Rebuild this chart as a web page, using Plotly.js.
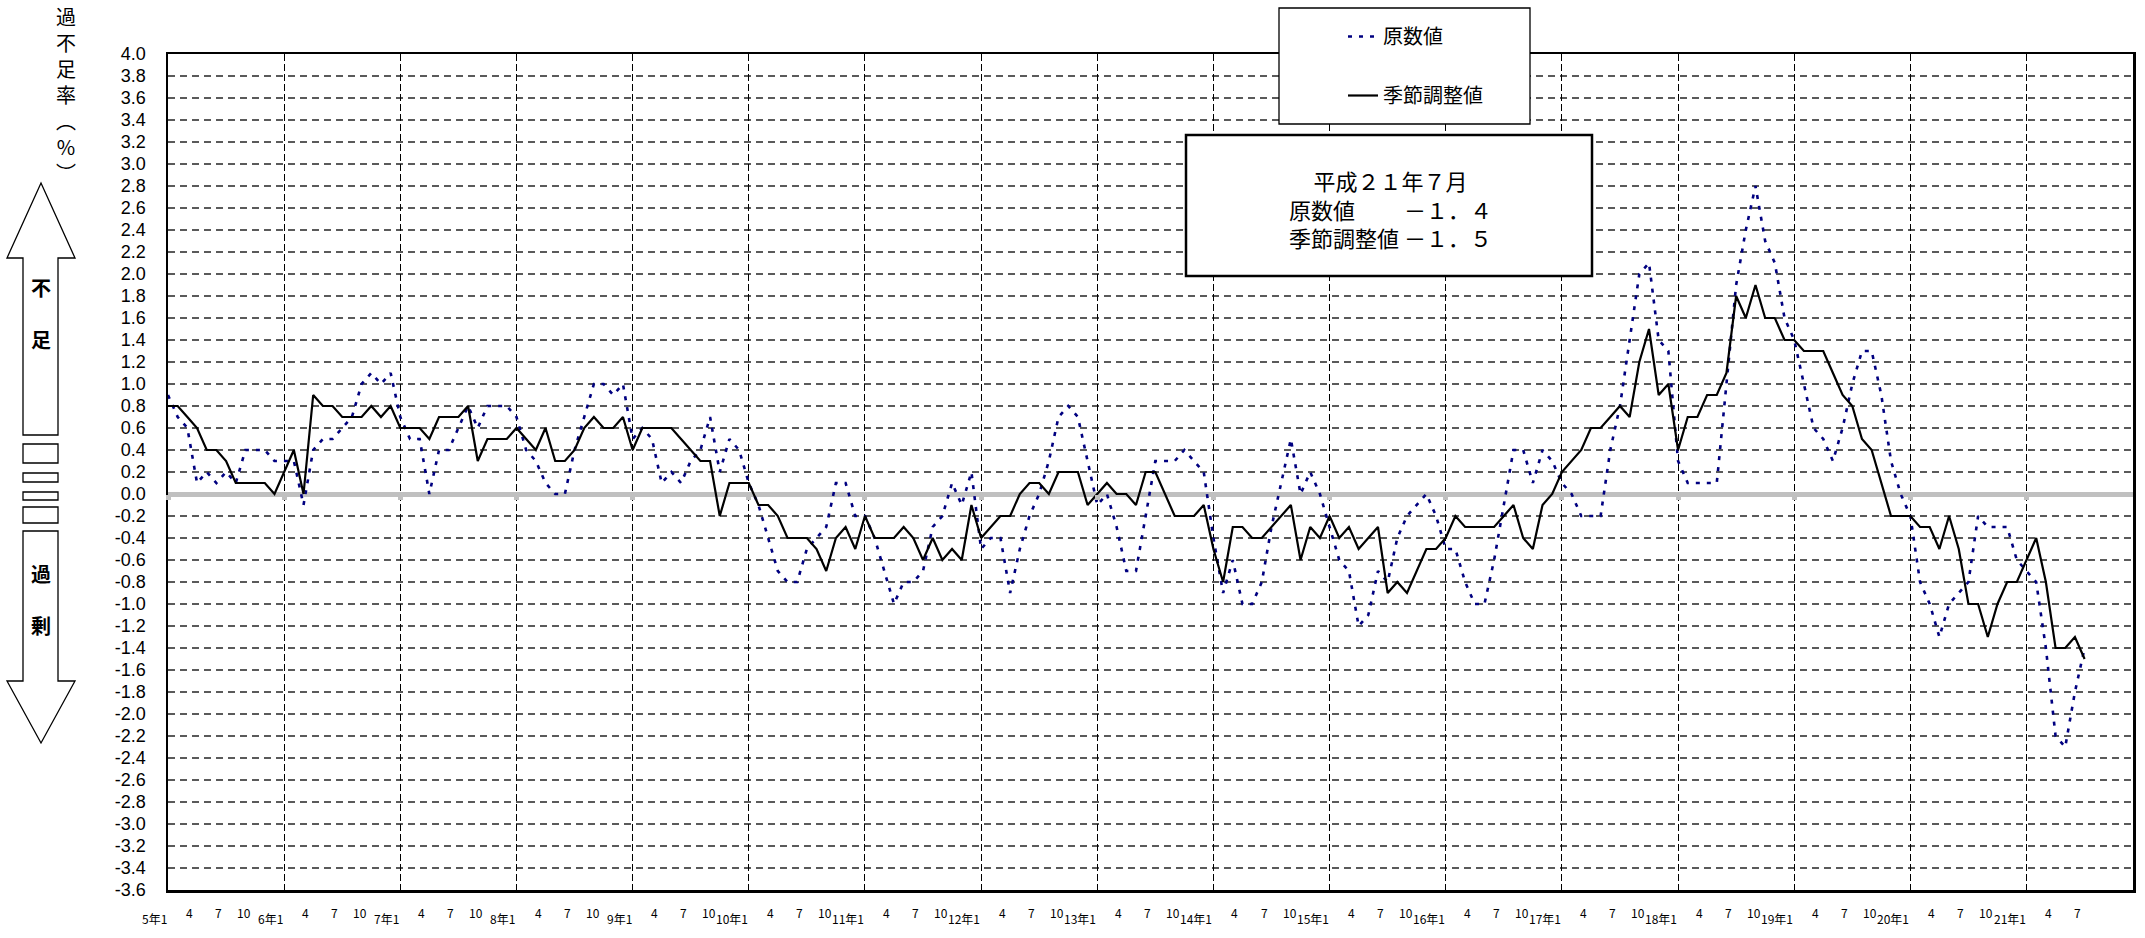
<!DOCTYPE html>
<html><head><meta charset="utf-8">
<script src="https://cdn.plot.ly/plotly-3.0.1.min.js"></script>
<style>html,body{margin:0;padding:0;background:#fff;}#chart{width:2145px;height:938px;}</style>
</head><body><div id="chart"></div>
<script>
// ---- categories (平成 year / month) ----
const years = [5,6,7,8,9,10,11,12,13,14,15,16,17,18,19,20,21];
const lastMonthOfLastYear = 7;
const categories = [];
years.forEach(y => { for (let mo = 1; mo <= 12; mo++) { if (y === 21 && mo > lastMonthOfLastYear) break; categories.push(y + '年' + mo + '月'); } });

// ---- tick labels (every quarter) ----
const tickLabels = [
 '5年1','4','7','10','6年1','4','7','10','7年1','4','7','10','8年1','4','7','10',
 '9年1','4','7','10','10年1','4','7','10','11年1','4','7','10','12年1','4','7','10',
 '13年1','4','7','10','14年1','4','7','10','15年1','4','7','10','16年1','4','7','10',
 '17年1','4','7','10','18年1','4','7','10','19年1','4','7','10','20年1','4','7','10',
 '21年1','4','7'];

// ---- series values (%), month by month ----
const rawValues = [
 0.9,0.7,0.6,0.1,0.2,0.1,0.2,0.1,0.4,0.4,0.4,0.3,
 0.3,0.3,-0.1,0.4,0.5,0.5,0.6,0.7,1.0,1.1,1.0,1.1,
 0.7,0.5,0.5,0.0,0.4,0.4,0.6,0.8,0.6,0.8,0.8,0.8,
 0.7,0.4,0.3,0.1,0.0,0.0,0.4,0.7,1.0,1.0,0.9,1.0,
 0.5,0.6,0.5,0.1,0.2,0.1,0.3,0.4,0.7,0.2,0.5,0.4,
 0.1,-0.1,-0.4,-0.7,-0.8,-0.8,-0.5,-0.4,-0.3,0.1,0.1,-0.2,
 -0.2,-0.4,-0.7,-1.0,-0.8,-0.8,-0.7,-0.3,-0.2,0.1,-0.1,0.2,
 -0.5,-0.4,-0.4,-0.9,-0.5,-0.2,0.0,0.3,0.7,0.8,0.7,0.3,
 -0.1,0.0,-0.3,-0.7,-0.7,-0.2,0.3,0.3,0.3,0.4,0.3,0.2,
 -0.4,-0.9,-0.6,-1.0,-1.0,-0.8,-0.3,0.1,0.5,0.0,0.2,0.0,
 -0.3,-0.6,-0.7,-1.2,-1.1,-0.7,-0.8,-0.4,-0.2,-0.1,0.0,-0.2,
 -0.5,-0.5,-0.8,-1.0,-1.0,-0.6,-0.1,0.4,0.4,0.1,0.4,0.3,
 0.1,0.0,-0.2,-0.2,-0.2,0.4,0.8,1.4,2.0,2.1,1.4,1.3,
 0.3,0.1,0.1,0.1,0.1,1.0,1.9,2.4,2.8,2.3,2.1,1.6,
 1.4,1.0,0.6,0.5,0.3,0.6,1.0,1.3,1.3,0.9,0.3,0.0,
 -0.2,-0.8,-1.0,-1.3,-1.0,-0.9,-0.8,-0.2,-0.3,-0.3,-0.3,-0.6,
 -0.7,-0.8,-1.4,-2.2,-2.3,-1.8,-1.4];

const saValues = [
 0.8,0.8,0.7,0.6,0.4,0.4,0.3,0.1,0.1,0.1,0.1,0.0,
 0.2,0.4,0.0,0.9,0.8,0.8,0.7,0.7,0.7,0.8,0.7,0.8,
 0.6,0.6,0.6,0.5,0.7,0.7,0.7,0.8,0.3,0.5,0.5,0.5,
 0.6,0.5,0.4,0.6,0.3,0.3,0.4,0.6,0.7,0.6,0.6,0.7,
 0.4,0.6,0.6,0.6,0.6,0.5,0.4,0.3,0.3,-0.2,0.1,0.1,
 0.1,-0.1,-0.1,-0.2,-0.4,-0.4,-0.4,-0.5,-0.7,-0.4,-0.3,-0.5,
 -0.2,-0.4,-0.4,-0.4,-0.3,-0.4,-0.6,-0.4,-0.6,-0.5,-0.6,-0.1,
 -0.4,-0.3,-0.2,-0.2,0.0,0.1,0.1,0.0,0.2,0.2,0.2,-0.1,
 0.0,0.1,0.0,0.0,-0.1,0.2,0.2,0.0,-0.2,-0.2,-0.2,-0.1,
 -0.5,-0.8,-0.3,-0.3,-0.4,-0.4,-0.3,-0.2,-0.1,-0.6,-0.3,-0.4,
 -0.2,-0.4,-0.3,-0.5,-0.4,-0.3,-0.9,-0.8,-0.9,-0.7,-0.5,-0.5,
 -0.4,-0.2,-0.3,-0.3,-0.3,-0.3,-0.2,-0.1,-0.4,-0.5,-0.1,0.0,
 0.2,0.3,0.4,0.6,0.6,0.7,0.8,0.7,1.2,1.5,0.9,1.0,
 0.4,0.7,0.7,0.9,0.9,1.1,1.8,1.6,1.9,1.6,1.6,1.4,
 1.4,1.3,1.3,1.3,1.1,0.9,0.8,0.5,0.4,0.1,-0.2,-0.2,
 -0.2,-0.3,-0.3,-0.5,-0.2,-0.5,-1.0,-1.0,-1.3,-1.0,-0.8,-0.8,
 -0.6,-0.4,-0.8,-1.4,-1.4,-1.3,-1.5];

const seriesNames = ['原数値', '季節調整値'];
const latestLines = ['平成２１年７月', '原数値　　 －１．４', '季節調整値 －１．５'];
const axisTitleChars = ['過','不','足','率','︵','%','︶'];

// ---- derived tick positions ----
const quarterCats = categories.filter(c => /年(1|4|7|10)月$/.test(c));
const yearCats = categories.filter(c => /年1月$/.test(c));
const yTicks = []; for (let i = -18; i <= 20; i++) yTicks.push(+(i * 0.2).toFixed(1));
const yTickText = yTicks.map(v => v.toFixed(1));

// ---- layout helpers (pixel -> paper) ----
const W = 2145, H = 938, ML = 168, MR = 12, MT = 54, MB = 48;
const PW = W - ML - MR, PH = H - MT - MB;
const px = x => (x - ML) / PW;
const py = y => (H - MB - y) / PH;
const pathOf = pts => 'M ' + pts.map(p => px(p[0]) + ' ' + py(p[1])).join(' L ') + ' Z';
const FONT = '"Noto Sans CJK JP", "Noto Sans", sans-serif';
const NUMFONT = '"Liberation Sans", Arial, sans-serif';

const traces = [
  { x: categories, y: rawValues, name: seriesNames[0], type: 'scatter', mode: 'lines',
    xaxis: 'x', yaxis: 'y', legendgroup: 'a',
    line: { color: '#000080', width: 2.6, dash: '4px,7px' } },
  { x: categories, y: saValues, name: seriesNames[1], type: 'scatter', mode: 'lines',
    xaxis: 'x2', yaxis: 'y', legendgroup: 'b',
    line: { color: '#000000', width: 2.2 } }
];

const thin = { color: '#000', width: 1.3 };
const shapes = [
  { type: 'rect', xref: 'paper', yref: 'paper', x0: px(1279), x1: px(1530), y0: py(124), y1: py(8),
    line: thin, fillcolor: '#fff', layer: 'above' },
  { type: 'rect', xref: 'paper', yref: 'paper', x0: px(1186), x1: px(1592), y0: py(276), y1: py(135),
    line: { color: '#000', width: 2.5 }, fillcolor: '#fff', layer: 'above' },
  { type: 'path', xref: 'paper', yref: 'paper', layer: 'above', line: thin,
    path: pathOf([[23,435],[23,258],[7,258],[41,183],[75,258],[58,258],[58,435]]) },
  { type: 'rect', xref: 'paper', yref: 'paper', x0: px(23), x1: px(58), y0: py(463), y1: py(444), line: thin },
  { type: 'rect', xref: 'paper', yref: 'paper', x0: px(23), x1: px(58), y0: py(482), y1: py(473), line: thin },
  { type: 'rect', xref: 'paper', yref: 'paper', x0: px(23), x1: px(58), y0: py(500), y1: py(492), line: thin },
  { type: 'rect', xref: 'paper', yref: 'paper', x0: px(23), x1: px(58), y0: py(523), y1: py(507), line: thin },
  { type: 'path', xref: 'paper', yref: 'paper', layer: 'above', line: thin,
    path: pathOf([[23,531],[58,531],[58,681],[75,681],[41,743],[7,681],[23,681]]) }
];

const annotations = [];
const ann = (text, x, y, size, extra) => annotations.push(Object.assign({
  text, xref: 'paper', yref: 'paper', x: px(x), y: py(y), xanchor: 'center', yanchor: 'middle',
  showarrow: false, font: { family: FONT, size, color: '#000' } }, extra || {}));
ann(latestLines.join('<br>'), 1390, 208, 22);
ann(axisTitleChars.join('<br>'), 66, 94, 20);
ann('<b>不</b>', 41, 287, 20);
ann('<b>足</b>', 41, 340, 20);
ann('<b>過</b>', 41, 573, 20);
ann('<b>剰</b>', 41, 625, 20);
// quarter labels on the x scale (right end near the tick, as in the slanted originals)
quarterCats.forEach((c, i) => {
  const isYear = tickLabels[i].indexOf('年') >= 0;
  annotations.push({
    text: tickLabels[i], xref: 'x', yref: 'paper', x: c, y: py(isYear ? 909 : 903), xshift: isYear ? 0 : -3,
    xanchor: 'right', yanchor: 'top', showarrow: false, borderpad: 0,
    font: { family: FONT, size: 12, color: '#000' } });
});

const commonX = { type: 'category', range: [0, 203], fixedrange: true, zeroline: false };

const layout = {
  width: W, height: H, margin: { l: ML, r: MR, t: MT, b: MB },
  paper_bgcolor: '#fff', plot_bgcolor: '#fff',
  font: { family: FONT, color: '#000' },
  showlegend: true,
  legend: { x: px(1343), y: py(17), xanchor: 'left', yanchor: 'top', bgcolor: 'rgba(0,0,0,0)',
    borderwidth: 0, font: { family: FONT, size: 20, color: '#000' }, traceorder: 'grouped',
    tracegroupgap: 30 },
  xaxis: Object.assign({}, commonX, {
    tickmode: 'array', tickvals: quarterCats, showticklabels: false,
    ticks: '', showgrid: false,
    showline: true, mirror: true, linecolor: '#000', linewidth: 2.5 }),
  xaxis2: Object.assign({}, commonX, {
    overlaying: 'x', anchor: 'free', position: py(494), side: 'bottom',
    tickmode: 'array', tickvals: yearCats, showticklabels: false,
    ticks: 'outside', ticklen: 5, tickwidth: 5, tickcolor: '#c0c0c0',
    showgrid: true, gridcolor: '#000', gridwidth: 1, griddash: '7px,3px', showline: false }),
  yaxis: { range: [-3.6, 4.0], fixedrange: true, tickmode: 'array', tickvals: yTicks, ticktext: yTickText,
    ticks: '', ticklabelstandoff: 16, tickfont: { family: NUMFONT, size: 18, color: '#000' },
    showgrid: true, gridcolor: '#5a5a5a', gridwidth: 1.4, griddash: '7px,5px',
    zeroline: true, zerolinecolor: '#c0c0c0', zerolinewidth: 5,
    showline: true, mirror: true, linecolor: '#000', linewidth: 2.5 },
  shapes, annotations
};

Plotly.newPlot('chart', traces, layout, { displayModeBar: false, staticPlot: true });
</script></body></html>
